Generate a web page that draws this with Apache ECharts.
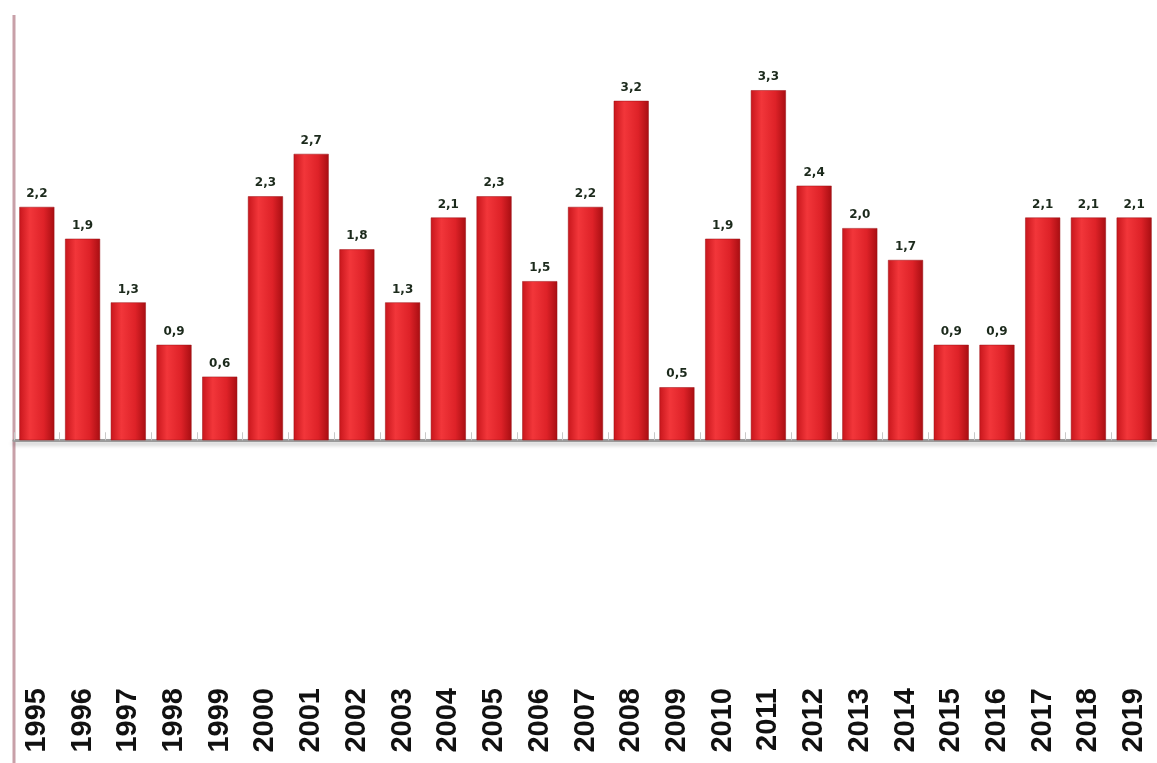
<!DOCTYPE html>
<html>
<head>
<meta charset="utf-8">
<script src="https://cdn.jsdelivr.net/npm/echarts@6/dist/echarts.min.js"></script>
<style>
  html, body { margin: 0; padding: 0; background: #fff; }
  #chart { width: 1157px; height: 763px; }
</style>
</head>
<body>
<div id="chart"></div>
<script>
// years on the x axis
const years = ['1995', '1996', '1997', '1998', '1999', '2000', '2001', '2002', '2003', '2004',
  '2005', '2006', '2007', '2008', '2009', '2010', '2011', '2012', '2013', '2014',
  '2015', '2016', '2017', '2018', '2019'];
// value per year
const values = [2.2, 1.9, 1.3, 0.9, 0.6, 2.3, 2.7, 1.8, 1.3, 2.1,
  2.3, 1.5, 2.2, 3.2, 0.5, 1.9, 3.3, 2.4, 2.0, 1.7,
  0.9, 0.9, 2.1, 2.1, 2.1];

const chart = echarts.init(document.getElementById('chart'));

const barColor = new echarts.graphic.LinearGradient(0, 0, 1, 0, [
  { offset: 0, color: '#c8161c' },
  { offset: 0.3, color: '#f2363a' },
  { offset: 0.7, color: '#de2228' },
  { offset: 1, color: '#a80e12' }
]);

chart.setOption({
  backgroundColor: '#fff',
  animation: false,
  grid: { left: 14, right: 0, top: 16, bottom: 83 },
  xAxis: [
    {
      type: 'category',
      data: years,
      axisLine: { onZero: true, lineStyle: { color: '#9a9a9a', width: 3, shadowColor: 'rgba(0,0,0,0.25)', shadowBlur: 4, shadowOffsetY: 3 } },
      axisTick: { show: true, inside: true, length: 8, lineStyle: { color: '#c8c8c8' } },
      axisLabel: { show: false }
    },
    {
      type: 'category',
      data: years,
      position: 'bottom',
      axisLine: { show: false },
      axisTick: { show: false },
      axisLabel: {
        rotate: 90,
        margin: 8,
        color: '#111',
        fontFamily: 'Liberation Sans',
        fontWeight: 'bold',
        fontSize: 29
      }
    }
  ],
  yAxis: {
    type: 'value',
    min: -2.26,
    max: 4,
    show: false
  },
  graphic: [
    {
      type: 'line',
      shape: { x1: 14, y1: 15, x2: 14, y2: 763 },
      style: { stroke: '#c8a0a8', lineWidth: 3 }
    }
  ],
  series: [
    {
      type: 'bar',
      xAxisIndex: 0,
      data: values,
      barWidth: 35,
      itemStyle: { color: barColor, borderColor: '#9a1014', borderWidth: 0.5 },
      label: {
        show: true,
        position: 'top',
        distance: 7,
        color: '#1c2a1c',
        fontFamily: 'DejaVu Sans',
        fontWeight: 'bold',
        fontSize: 12,
        formatter: p => p.value.toFixed(1).replace('.', ',')
      }
    }
  ]
});
</script>
</body>
</html>
